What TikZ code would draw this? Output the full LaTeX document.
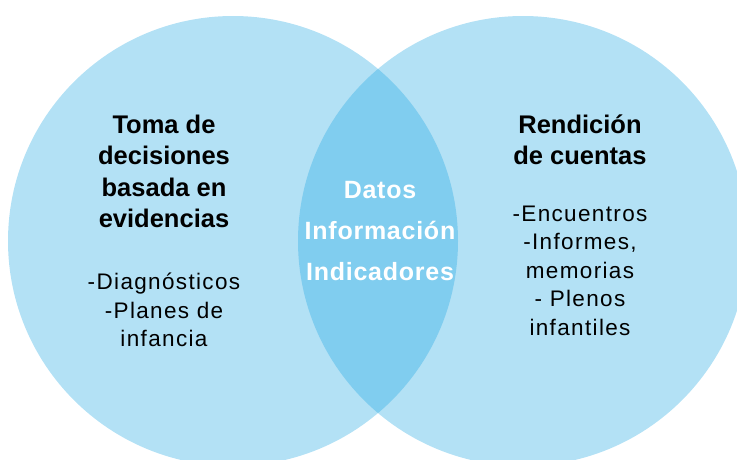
\documentclass[tikz,border=0pt]{standalone}
\usepackage{fontspec}
\setmainfont{Liberation Sans}
\newfontfamily\listfont[LetterSpace=6]{Liberation Sans}
\newfontfamily\corefont[LetterSpace=3]{Liberation Sans}
\usepackage{xcolor}
\definecolor{venn}{RGB}{179,225,245}
\definecolor{overlap}{RGB}{128,205,239}

\begin{document}
\begin{tikzpicture}[
  x=1pt, y=1pt,
  title/.style={anchor=north, inner sep=0pt, align=center,
                font=\bfseries\fontsize{25.5}{31.5}\selectfont},
  items/.style={anchor=north, inner sep=0pt, align=center,
                font=\listfont\fontsize{22.5}{28.5}\selectfont},
  core/.style={anchor=north, inner sep=0pt, align=center, text=white,
               font=\corefont\bfseries\fontsize{25}{41}\selectfont},
]
\useasboundingbox (0,0) rectangle (737,459);

% Circles
\fill[venn] (233,218) circle (225pt);
\fill[venn] (523,218) circle (225pt);
\begin{scope}
  \clip (233,218) circle (225pt);
  \fill[overlap] (523,218) circle (225pt);
\end{scope}

% Left circle
\node[title] (decisiones) at (164,344.5) {Toma de\\decisiones\\basada en\\evidencias};
\node[items] (diagnosticos) at (164,186) {-Diagnósticos\\-Planes de\\infancia};

% Intersection
\node[core] (datos) at (380,278) {Datos\\Información\\Indicadores};

% Right circle
\node[title] (cuentas) at (580,344.5) {Rendición\\de cuentas};
\node[items] (encuentros) at (580,253.5) {-Encuentros\\-Informes,\\memorias\\- Plenos\\infantiles};

\end{tikzpicture}
\end{document}
